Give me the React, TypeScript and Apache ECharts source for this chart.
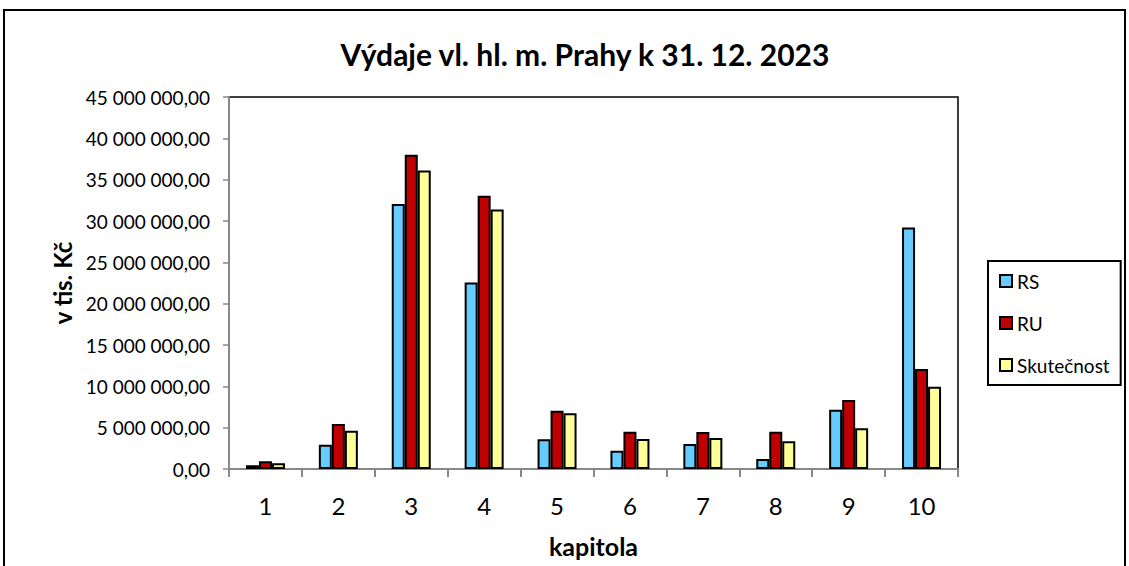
import React, { useEffect, useRef } from "react";
import * as echarts from "echarts";

const categories = ["1", "2", "3", "4", "5", "6", "7", "8", "9", "10"];
const seriesNames = ["RS", "RU", "Skutečnost"];
const rsValues = [450000, 2940000, 32050000, 22550000, 3590000, 2210000, 3020000, 1210000, 7170000, 29200000];
const ruValues = [930000, 5440000, 38000000, 33050000, 7050000, 4510000, 4470000, 4510000, 8340000, 12100000];
const skValues = [690000, 4630000, 36100000, 31400000, 6730000, 3630000, 3750000, 3350000, 4920000, 9950000];
const colors = ["#66CCFF", "#C00000", "#FFFF99"];

const FONT = "Lato, 'Open Sans', sans-serif";

function fmt(v: number): string {
  const s = Math.round(v).toString().replace(/\B(?=(\d{3})+(?!\d))/g, " ");
  return s + ",00";
}

export default function App() {
  const ref = useRef<HTMLDivElement>(null);
  useEffect(() => {
    const chart = echarts.init(ref.current!, null, { renderer: "svg" });
    const data = [rsValues, ruValues, skValues];
    chart.setOption({
      animation: false,
      backgroundColor: "#ffffff",
      textStyle: { fontFamily: FONT },
      title: {
        text: "Výdaje vl. hl. m. Prahy k 31. 12. 2023",
        left: 580,
        top: 34,
        textAlign: "center",
        textStyle: { fontFamily: FONT, fontSize: 30, fontWeight: "bold", color: "#000" },
      },
      legend: {
        orient: "vertical",
        left: 988,
        top: 261,
        padding: [10, 11, 10, 11],
        itemGap: 22,
        itemWidth: 12,
        itemHeight: 12,
        icon: "rect",
        borderColor: "#000",
        borderWidth: 2,
        textStyle: { fontFamily: FONT, fontSize: 19, lineHeight: 20, color: "#000" },
        data: seriesNames,
      },
      grid: {
        left: 229,
        right: 171,
        top: 97,
        bottom: 97,
        show: true,
        borderColor: "#000",
        borderWidth: 1.5,
        containLabel: false,
      },
      xAxis: {
        type: "category",
        data: categories,
        name: "kapitola",
        nameLocation: "middle",
        nameGap: 64,
        nameTextStyle: { fontFamily: FONT, fontSize: 25, fontWeight: "bold", color: "#000" },
        axisLine: { lineStyle: { color: "#888", width: 2 } },
        axisTick: { show: true, length: 8, lineStyle: { color: "#888", width: 2 }, alignWithLabel: false },
        axisLabel: { fontFamily: FONT, fontSize: 24, color: "#000", margin: 24 },
      },
      yAxis: {
        type: "value",
        min: 0,
        max: 45000000,
        interval: 5000000,
        name: "v tis. Kč",
        nameLocation: "middle",
        nameGap: 151,
        nameRotate: 90,
        nameTextStyle: { fontFamily: FONT, fontSize: 24, fontWeight: "bold", color: "#000" },
        axisLine: { show: true, lineStyle: { color: "#888", width: 2 } },
        axisTick: { show: true, length: 6, inside: false, lineStyle: { color: "#888", width: 1.5 } },
        splitLine: { show: false },
        axisLabel: { fontFamily: FONT, fontSize: 19, color: "#000", margin: 19, formatter: (v: number) => fmt(v) },
      },
      graphic: [
        {
          type: "rect",
          shape: { x: 4, y: 10, width: 1121, height: 600 },
          style: { fill: "none", stroke: "#000", lineWidth: 2 },
          silent: true,
          z: 100,
        },
      ],
      series: seriesNames.map((name, i) => ({
        name,
        type: "bar",
        data: data[i],
        barWidth: 13,
        barGap: "0%",
        itemStyle: { color: colors[i], borderColor: "#000", borderWidth: 2 },
      })),
    });
    return () => chart.dispose();
  }, []);
  return (
    <div
      ref={ref}
      style={{ position: "absolute", left: 0, top: 0, width: 1129, height: 566 }}
    />
  );
}
